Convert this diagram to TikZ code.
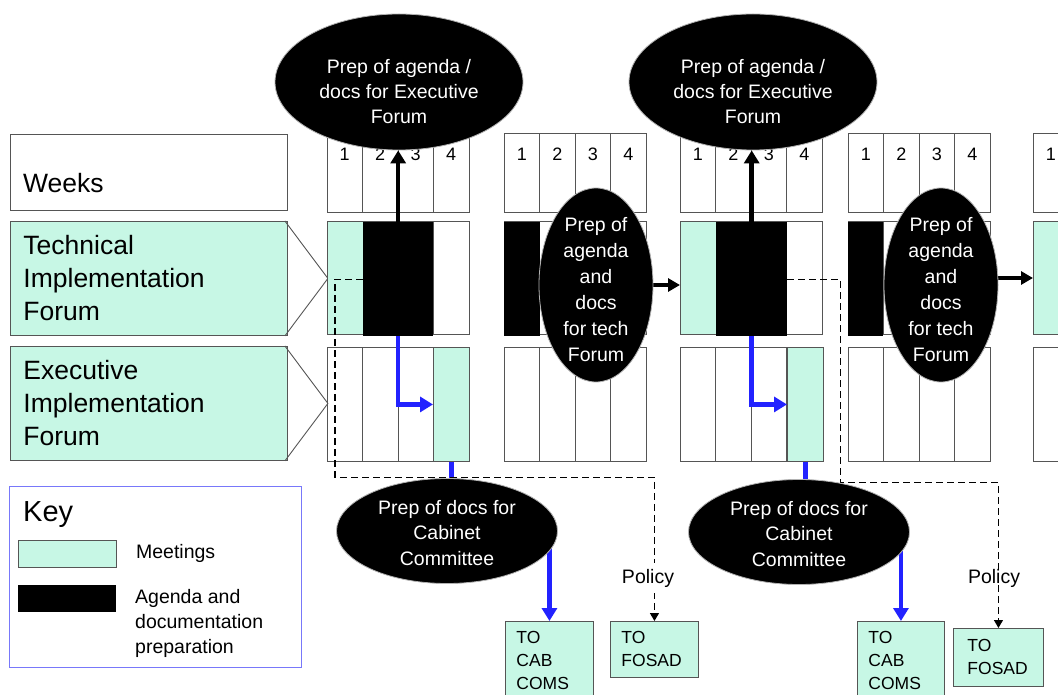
\documentclass[tikz,border=0pt]{standalone}
\usepackage{fontspec}
\setmainfont{Liberation Sans}
\usepackage{xcolor}
\usetikzlibrary{arrows.meta, positioning, shapes.geometric}

\definecolor{mint}{RGB}{199,247,229}
\definecolor{gridgray}{RGB}{85,85,85}
\definecolor{flowblue}{RGB}{34,34,255}
\definecolor{keyblue}{RGB}{120,120,250}

\pgfdeclarelayer{front}
\pgfsetlayers{main,front}

\newcommand{\fsz}[2]{\fontsize{#1}{#2}\selectfont}

\begin{document}
\begin{tikzpicture}[
    x=1pt, y=-1pt,
    % --- Styles ---
    grid line/.style={draw=gridgray, line width=0.9pt},
    plain box/.style={draw=gridgray, line width=0.9pt, anchor=north west, inner sep=0pt},
    row text/.style={font=\fsz{26.5}{33}, anchor=west, inner sep=0pt},
    forum box/.style={fill=mint, draw=gridgray, line width=0.9pt, anchor=north west,
        minimum height=114pt, text width=251pt, inner xsep=13pt, align=left, font=\fsz{26.5}{33}},
    meeting/.style={fill=mint, draw=gridgray, line width=0.9pt, inner sep=0pt, anchor=north west},
    prep/.style={fill=black, inner sep=0pt, anchor=north west},
    week num/.style={font=\fsz{18}{20}, inner sep=0pt},
    oval/.style={ellipse, fill=black, draw=gray!60, line width=0.8pt, inner sep=0pt},
    oval text/.style={text=white, align=center, font=\fsz{19.5}{25}},
    to box/.style={fill=mint, draw=gridgray, line width=0.9pt, anchor=north west, align=left,
        inner xsep=11pt, inner ysep=10pt, font=\fsz{17.5}{23}},
    key text/.style={font=\fsz{19.5}{25}, align=left, anchor=west, inner sep=0pt},
    policy text/.style={font=\fsz{19.5}{22}, inner xsep=2pt, inner ysep=6pt},
    exec arrow/.style={line width=4.5pt, -{Triangle[length=13pt,width=15pt]}},
    tech arrow/.style={line width=3.5pt, -{Triangle[length=12pt,width=13pt]}},
    flow line/.style={flowblue, line width=4.5pt},
    flow arrow/.style={flow line, -{Triangle[length=13pt,width=15pt]}},
    policy line/.style={line width=1.3pt, dash pattern=on 7pt off 4pt, -{Triangle[length=8pt,width=9pt]}}
]
    \useasboundingbox (0,0) rectangle (1058,695);

    %% --- LEFT LABELS ---
    \node[plain box, minimum width=277pt, minimum height=76pt] (weeksBox) at (10,134) {};
    \node[row text] (weeksText) at (23,183) {Weeks};

    \node[forum box] (techLabel) at (10,221) {Technical\\Implementation\\Forum};
    \draw[grid line] ([xshift=-3pt]techLabel.north east) -- ([xshift=40pt]techLabel.east)
        -- ([xshift=-3pt]techLabel.south east);

    \node[forum box] (execLabel) at (10,346) {Executive\\Implementation\\Forum};
    \draw[grid line] ([xshift=-3pt]execLabel.north east) -- ([xshift=40pt]execLabel.east)
        -- ([xshift=-3pt]execLabel.south east);

    %% --- WEEK GRID (last block runs off the page) ---
    \foreach \bx/\bn/\nc in {327/A/4, 504/B/4, 680/C/4, 848/D/4, 1033/E/1} {
        \foreach \c in {1,...,\nc} {
            \draw[grid line] ({\bx+(\c-1)*35.5},133) rectangle ++(35.5,79);
            \node[week num] (wk\bn\c) at ({\bx+(\c-0.5)*35.5},154) {\c};
            \draw[grid line] ({\bx+(\c-1)*35.5},221) rectangle ++(35.5,113);
            \draw[grid line] ({\bx+(\c-1)*35.5},347) rectangle ++(35.5,114);
        }
    }

    % Meetings (mint) and preparation (black)
    \node[meeting, minimum width=36pt, minimum height=113pt] (meetTechA) at (327,221) {};
    \node[prep, minimum width=70pt, minimum height=114pt] (blkA) at (363,222) {};
    \node[meeting, minimum width=36pt, minimum height=114pt] (meetExecA) at (433,347) {};

    \node[prep, minimum width=36pt, minimum height=114pt] (blkB) at (504,222) {};

    \node[meeting, minimum width=36pt, minimum height=113pt] (meetTechC) at (680,221) {};
    \node[prep, minimum width=71pt, minimum height=114pt] (blkC) at (716,222) {};
    \node[meeting, minimum width=36pt, minimum height=114pt] (meetExecC) at (787,347) {};

    \node[prep, minimum width=35pt, minimum height=114pt] (blkD) at (848,222) {};

    \node[meeting, minimum width=36pt, minimum height=113pt] (meetTechE) at (1033,221) {};

    %% --- OUTPUT BOXES ---
    \node[to box, text width=66pt] (toCabA) at (505,621) {TO\\CAB\\COMS};
    \node[to box, text width=66pt, minimum height=56pt] (toFosadA) at (610,621) {TO\\FOSAD};
    \node[to box, text width=65pt] (toCabB) at (857,621) {TO\\CAB\\COMS};
    \node[to box, text width=62pt, inner xsep=14pt, minimum height=58pt] (toFosadB) at (953,628) {TO\\FOSAD};

    %% --- KEY ---
    \node[plain box, draw=keyblue, line width=1pt, minimum width=292pt, minimum height=181pt] (keyBox) at (9,486) {};
    \node[anchor=west, inner sep=0pt, font=\fsz{29}{30}] (keyTitle) at (23,515) {Key};
    \node[meeting, minimum width=98pt, minimum height=27pt] (keyMeet) at (18,540) {};
    \node[prep, minimum width=98pt, minimum height=27pt] (keyPrep) at (18,585) {};
    \node[key text, right=19pt of keyMeet] (keyMeetText) {Meetings};
    \node[key text] (keyPrepText) at (135,623) {Agenda and\\documentation\\preparation};

    %% --- OVALS (drawn on top) ---
    \begin{pgfonlayer}{front}
        \node[oval, minimum width=248pt, minimum height=136pt] (execA) at (399,82) {};
        \node[oval text] (execAText) at (399,92) {Prep of agenda /\\docs for Executive\\Forum};
        \node[oval, minimum width=248pt, minimum height=136pt] (execC) at (753,82) {};
        \node[oval text] (execCText) at (753,92) {Prep of agenda /\\docs for Executive\\Forum};

        \node[oval, minimum width=114pt, minimum height=194pt] (techB) at (596,285) {};
        \node[oval text, font=\fsz{19.5}{26}] (techBText) at (596,290) {Prep of\\agenda\\and\\docs\\for tech\\Forum};
        \node[oval, minimum width=114pt, minimum height=194pt] (techD) at (941,285) {};
        \node[oval text, font=\fsz{19.5}{26}] (techDText) at (941,290) {Prep of\\agenda\\and\\docs\\for tech\\Forum};

        \node[oval, minimum width=221pt, minimum height=105pt] (cabA) at (447,531) {};
        \node[oval text, font=\fsz{19.5}{25.5}] (cabAText) at (447,533) {Prep of docs for\\Cabinet\\Committee};
        \node[oval, minimum width=221pt, minimum height=105pt] (cabB) at (799,532) {};
        \node[oval text, font=\fsz{19.5}{25.5}] (cabBText) at (799,534) {Prep of docs for\\Cabinet\\Committee};
    \end{pgfonlayer}

    %% --- CONNECTORS ---
    % Preparation -> executive forum agenda
    \draw[exec arrow] (blkA.north) -- (blkA.north |- execA.south);
    \draw[exec arrow] (blkC.north) -- (blkC.north |- execC.south);

    % Tech forum agenda -> next meeting
    \draw[tech arrow] (techB.east) -- (techB.east -| meetTechC.west);
    \draw[tech arrow] ([yshift=7pt]techD.east) -- ([yshift=7pt]techD.east -| meetTechE.west);

    % Preparation -> executive meeting -> cabinet committee
    \draw[flow arrow] (blkA.south) |- (meetExecA.west);
    \draw[flow arrow] (blkC.south) |- (meetExecC.west);
    \draw[flow line] (meetExecA.south) -- (meetExecA.south |- cabA.north);
    \draw[flow line] (meetExecC.south) -- (meetExecC.south |- cabB.north);
    \draw[flow arrow] (toCabA.north |- cabA.center) -- (toCabA.north);
    \draw[flow arrow] (toCabB.north |- cabB.center) -- (toCabB.north);

    % Policy routes to FOSAD
    \draw[policy line] (blkA.west) -- ++(-28,0) -- ++(0,198) -| (toFosadA.north);
    \draw[policy line] (blkC.east) -- ++(53,0) -- ++(0,203) -| (toFosadB.north);
    \node[policy text, fill=white] (policyA) at (648,578) {Policy};
    \node[policy text] (policyB) at (994,578) {Policy};
\end{tikzpicture}
\end{document}
